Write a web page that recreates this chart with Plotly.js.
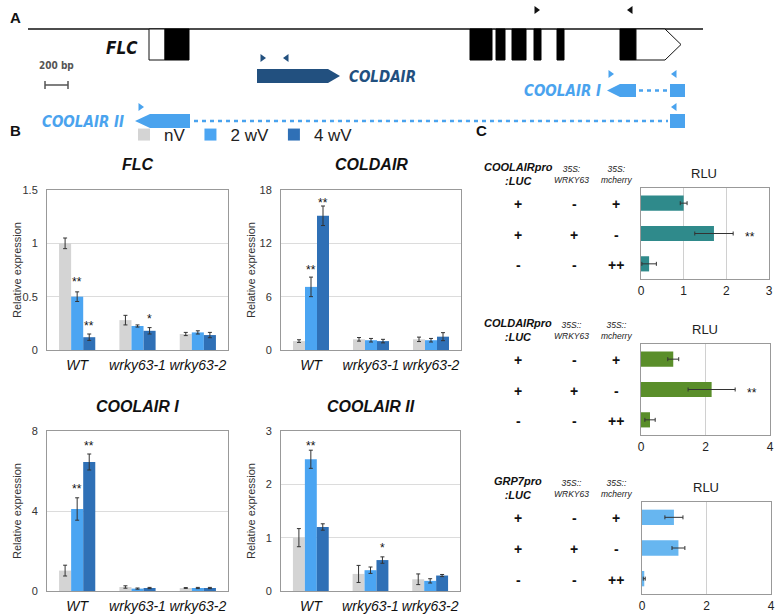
<!DOCTYPE html>
<html><head><meta charset="utf-8">
<script src="https://cdn.plot.ly/plotly-3.0.1.min.js"></script>
<style>html,body{margin:0;padding:0;background:#fff}#chart{width:775px;height:616px}</style>
</head><body><div id="chart"></div>
<script>
// ================= DATA =================
// Panel B: relative expression
const groups = ['WT', 'wrky63-1', 'wrky63-2'];
const seriesNames = ['nV', '2 wV', '4 wV'];
const geneTitles = ['FLC', 'COLDAIR', 'COOLAIR I', 'COOLAIR II'];

const flcNV = [1.0, 0.28, 0.15];
const flcNVErr = [0.05, 0.045, 0.015];
const flc2wV = [0.5, 0.225, 0.165];
const flc2wVErr = [0.045, 0.01, 0.015];
const flc4wV = [0.12, 0.18, 0.14];
const flc4wVErr = [0.03, 0.03, 0.025];

const coldairNV = [1.0, 1.2, 1.2];
const coldairNVErr = [0.15, 0.2, 0.25];
const coldair2wV = [7.1, 1.1, 1.1];
const coldair2wVErr = [1.1, 0.2, 0.2];
const coldair4wV = [15.1, 1.0, 1.5];
const coldair4wVErr = [1.1, 0.2, 0.45];

const coolair1NV = [1.02, 0.2, 0.15];
const coolair1NVErr = [0.27, 0.06, 0.02];
const coolair12wV = [4.1, 0.12, 0.15];
const coolair12wVErr = [0.56, 0.03, 0.03];
const coolair14wV = [6.45, 0.15, 0.15];
const coolair14wVErr = [0.4, 0.03, 0.03];

const coolair2NV = [1.0, 0.32, 0.22];
const coolair2NVErr = [0.17, 0.16, 0.1];
const coolair22wV = [2.47, 0.39, 0.19];
const coolair22wVErr = [0.17, 0.06, 0.04];
const coolair24wV = [1.2, 0.58, 0.29];
const coolair24wVErr = [0.06, 0.06, 0.02];

const yMax = [1.5, 18, 8, 3];
const yTick = [0.5, 6, 4, 1];

// significance marks (chart index, group index, series index, y, text)
const starChart = [0, 0, 0, 1, 1, 2, 2, 3, 3];
const starGroup = [0, 0, 1, 0, 0, 0, 0, 0, 1];
const starSeries = [1, 2, 2, 1, 2, 1, 2, 1, 2];
const starY = [0.67, 0.25, 0.32, 9.3, 16.9, 5.25, 7.4, 2.77, 0.86];
const starText = ['**', '**', '*', '**', '**', '**', '**', '**', '*'];

// Panel C: luciferase assays (RLU)
const lucRows = ['r1', 'r2', 'r3'];
const lucTitles = ['COOLAIRpro<br>:LUC', 'COLDAIRpro<br>:LUC', 'GRP7pro<br>:LUC'];
const lucCol2 = ['35S:<br>WRKY63', '35S::<br>WRKY63', '35S::<br>WRKY63'];
const lucCol3 = ['35S:<br>mcherry', '35S::<br>mcherry', '35S::<br>mcherry'];
const rowPro = ['+', '+', '-'];
const rowWrky = ['-', '+', '-'];
const rowMcherry = ['+', '-', '++'];
const luc1Vals = [1.0, 1.71, 0.19];
const luc1Err = [0.08, 0.45, 0.17];
const luc2Vals = [1.0, 2.19, 0.28];
const luc2Err = [0.17, 0.73, 0.16];
const luc3Vals = [0.99, 1.13, 0.07];
const luc3Err = [0.28, 0.2, 0.03];
const lucMax = [3, 4, 4];
const lucDtick = [1, 2, 2];
const lucStarRow = [1, 1];
const lucStarX = [2.56, 3.43];

// Panel A: FLC locus schematic (diagram units)
const genomeLine = [28, 703];
const exonStart = [165, 470, 496, 512, 534, 557, 620];
const exonEnd = [189, 492, 505, 526, 541, 564, 636];
const utr5 = [149, 165];
const utr3 = [636, 665, 681];
const coldairSpan = [257, 340];
const coolair1Span = [607, 636];
const coolair1Intron = [636, 670];
const coolair2Span = [135, 190];
const coolair2Intron = [190, 670];
const lastExon = [670, 685];
const primerX = [537, 630, 263, 286, 611, 674, 141, 674];
const primerY = [10, 10, 58, 58, 74, 74, 107, 107];
const primerDir = [1, -1, 1, -1, 1, -1, 1, -1];
const primerKind = [0, 0, 1, 1, 2, 2, 2, 2];

// ================= BUILD =================
(function () {
const W = 775, H = 616;
const fx = a => a / W;
const fy = b => 1 - b / H;
const FONT = 'Liberation Sans, Arial, Helvetica, sans-serif';
const NARROW = 'Liberation Sans Narrow, DejaVu Sans Condensed, Arial Narrow, sans-serif';
const serColors = ['#d4d4d4', '#4ba5f2', '#2f70b6'];
const lucColors = ['#2f8a8b', '#5a8e2a', '#67b6f0'];
const darkBlue = '#22507f', lightBlue = '#4aa3ee';

const chartVals = [
  [[flcNV, flcNVErr], [flc2wV, flc2wVErr], [flc4wV, flc4wVErr]],
  [[coldairNV, coldairNVErr], [coldair2wV, coldair2wVErr], [coldair4wV, coldair4wVErr]],
  [[coolair1NV, coolair1NVErr], [coolair12wV, coolair12wVErr], [coolair14wV, coolair14wVErr]],
  [[coolair2NV, coolair2NVErr], [coolair22wV, coolair22wVErr], [coolair24wV, coolair24wVErr]]
];
// layout boxes in px: [left, right, top, bottom]
const bBoxes = [[47, 228, 190, 350], [281, 461, 190, 350], [47, 228, 431, 591], [281, 460, 431, 591]];
const cBoxes = [[641, 769, 188, 279], [641, 770, 344, 435], [642, 771, 502, 594]];

const traces = [];
const layout = {
  width: W, height: H, autosize: false,
  margin: {l: 0, r: 0, t: 0, b: 0},
  paper_bgcolor: '#fff', plot_bgcolor: '#fff',
  font: {family: FONT, color: '#111'},
  barmode: 'group', bargap: 0.4, bargroupgap: 0,
  showlegend: true,
  legend: {orientation: 'h', x: fx(124), y: fy(135), xanchor: 'left', yanchor: 'middle',
           font: {family: FONT, size: 17, color: '#222'}, bgcolor: 'rgba(0,0,0,0)', traceorder: 'normal'},
  annotations: [], shapes: []
};
const ann = (o) => layout.annotations.push(Object.assign({showarrow: false, xanchor: 'center', yanchor: 'middle'}, o));

chartVals.forEach((chart, ci) => {
  const n = ci + 1;
  const xa = n === 1 ? 'x' : 'x' + n, ya = n === 1 ? 'y' : 'y' + n;
  chart.forEach((s, si) => {
    traces.push({
      type: 'bar', x: groups, y: s[0], name: seriesNames[si],
      xaxis: xa, yaxis: ya, marker: {color: serColors[si], line: {width: 0}},
      error_y: {type: 'data', array: s[1], visible: true, color: '#333', thickness: 1, width: 2},
      showlegend: ci === 0, legendgroup: seriesNames[si], hoverinfo: 'skip'
    });
  });
  const b = bBoxes[ci];
  layout['xaxis' + (n === 1 ? '' : n)] = {
    domain: [fx(b[0]), fx(b[1])], anchor: ya, type: 'category',
    showline: true, mirror: true, linecolor: '#999', linewidth: 1, ticks: '',
    tickfont: {family: FONT, size: 14, style: 'italic', color: '#111'}, ticklabelstandoff: 2,
    showgrid: false, zeroline: false, fixedrange: true
  };
  layout['yaxis' + (n === 1 ? '' : n)] = {
    domain: [fy(b[3]), fy(b[2])], anchor: xa, range: [0, yMax[ci]], dtick: yTick[ci],
    showline: true, mirror: true, linecolor: '#999', linewidth: 1, ticks: '',
    showgrid: true, gridcolor: '#dcdcdc', zeroline: false,
    tickfont: {family: FONT, size: 11, color: '#333'}, ticklabelstandoff: 6, fixedrange: true
  };
  ann({xref: 'paper', yref: 'paper', x: fx((b[0] + b[1]) / 2), y: fy(b[2] - 25),
    text: '<b><i>' + geneTitles[ci] + '</i></b>', font: {family: FONT, size: 16, color: '#111'}});
  ann({xref: 'paper', yref: 'paper', x: fx(ci % 2 === 0 ? 17 : 251), y: fy((b[2] + b[3]) / 2),
    text: 'Relative expression', textangle: -90, font: {family: FONT, size: 11, color: '#333'}});
});

starChart.forEach((c, i) => {
  const n = c + 1;
  ann({xref: n === 1 ? 'x' : 'x' + n, yref: n === 1 ? 'y' : 'y' + n,
    x: starGroup[i] + (starSeries[i] - 1) * 0.2, y: starY[i], text: starText[i],
    font: {family: FONT, size: 12, color: '#111'}, yshift: -3});
});

const lucData = [[luc1Vals, luc1Err], [luc2Vals, luc2Err], [luc3Vals, luc3Err]];
lucData.forEach((d, k) => {
  const n = k + 5;
  traces.push({
    type: 'bar', orientation: 'h', x: d[0], y: lucRows, width: 0.5,
    xaxis: 'x' + n, yaxis: 'y' + n, marker: {color: lucColors[k], line: {width: 0}},
    error_x: {type: 'data', array: d[1], visible: true, color: '#333', thickness: 1, width: 2},
    showlegend: false, hoverinfo: 'skip'
  });
  const b = cBoxes[k];
  layout['xaxis' + n] = {
    domain: [fx(b[0]), fx(b[1])], anchor: 'y' + n, range: [0, lucMax[k]], dtick: lucDtick[k],
    showline: true, mirror: true, linecolor: '#999', linewidth: 1, ticks: '',
    showgrid: true, gridcolor: '#d0d0d0', zeroline: false,
    tickfont: {family: FONT, size: 12, color: '#222'}, ticklabelstandoff: 1, fixedrange: true
  };
  layout['yaxis' + n] = {
    domain: [fy(b[3]), fy(b[2])], anchor: 'x' + n, type: 'category', autorange: 'reversed',
    showticklabels: false, ticks: '', showline: true, mirror: true, linecolor: '#999', linewidth: 1,
    showgrid: false, zeroline: false, fixedrange: true
  };
  ann({xref: 'paper', yref: 'paper', x: fx((b[0] + b[1]) / 2 - 1), y: fy(b[2] - 15),
    text: 'RLU', font: {family: FONT, size: 13, color: '#222'}});
  ann({xref: 'paper', yref: 'paper', x: fx(518), y: fy(b[2] - 14),
    text: '<b><i>' + lucTitles[k] + '</i></b>', align: 'center',
    font: {family: FONT, size: 11, color: '#111'}});
  ann({xref: 'paper', yref: 'paper', x: fx(571), y: fy(b[2] - 14),
    text: '<i>' + lucCol2[k] + '</i>', align: 'center',
    font: {family: FONT, size: 8.5, color: '#222'}});
  ann({xref: 'paper', yref: 'paper', x: fx(616), y: fy(b[2] - 14),
    text: '<i>' + lucCol3[k] + '</i>', align: 'center',
    font: {family: FONT, size: 8.5, color: '#222'}});
  [rowPro, rowWrky, rowMcherry].forEach((col, ci) => {
    const xp = [518, 574, 616][ci];
    col.forEach((t, r) => {
      ann({xref: 'paper', yref: 'y' + n, x: fx(xp), y: r, text: '<b>' + t + '</b>',
        font: {family: FONT, size: 14, color: '#111'}, yshift: -1});
    });
  });
});
lucStarRow.forEach((r, i) => {
  const n = i + 5;
  ann({xref: 'x' + n, yref: 'y' + n, x: lucStarX[i], y: r, text: '**',
    font: {family: FONT, size: 12, color: '#111'}, yshift: -3});
});

[['A', 8, 17], ['B', 8, 130], ['C', 474, 130]].forEach(p => {
  ann({xref: 'paper', yref: 'paper', x: fx(p[1]), y: fy(p[2]), text: '<b>' + p[0] + '</b>',
    xanchor: 'left', font: {family: FONT, size: 15, color: '#111'}});
});

// ---- Panel A schematic on a hidden axis ----
layout.xaxis8 = {domain: [0, 1], anchor: 'y8', range: [0, W], visible: false, fixedrange: true};
layout.yaxis8 = {domain: [fy(135), 1], anchor: 'x8', range: [135, 0], visible: false, fixedrange: true};
traces.push({type: 'scatter', x: [0], y: [0], xaxis: 'x8', yaxis: 'y8', mode: 'markers',
  marker: {opacity: 0}, showlegend: false, hoverinfo: 'skip'});
const S = (o) => Object.assign({xref: 'x8', yref: 'y8', layer: 'above'}, o);
const exTop = 29, exBot = 60;
layout.shapes.push(S({type: 'line', x0: genomeLine[0], x1: genomeLine[1], y0: exTop, y1: exTop, line: {color: '#111', width: 1.5}}));
layout.shapes.push(S({type: 'rect', x0: utr5[0], x1: utr5[1], y0: exTop, y1: exBot, fillcolor: '#fff', line: {color: '#111', width: 1}}));
exonStart.forEach((s, i) => layout.shapes.push(S({type: 'rect', x0: s, x1: exonEnd[i], y0: exTop, y1: exBot,
  fillcolor: '#000', line: {color: '#000', width: 1}})));
const exMid = (exTop + exBot) / 2;
layout.shapes.push(S({type: 'path', path: `M${utr3[0]},${exTop} L${utr3[1]},${exTop} L${utr3[2]},${exMid} L${utr3[1]},${exBot} L${utr3[0]},${exBot} Z`,
  fillcolor: '#fff', line: {color: '#111', width: 1}}));
layout.shapes.push(S({type: 'path', path: `M${coldairSpan[0]},69 L${coldairSpan[1] - 12},69 L${coldairSpan[1]},76 L${coldairSpan[1] - 12},83 L${coldairSpan[0]},83 Z`,
  fillcolor: darkBlue, line: {width: 0}}));
layout.shapes.push(S({type: 'path', path: `M${coolair1Span[1]},84 L${coolair1Span[0] + 13},84 L${coolair1Span[0]},90.5 L${coolair1Span[0] + 13},97 L${coolair1Span[1]},97 Z`,
  fillcolor: lightBlue, line: {width: 0}}));
layout.shapes.push(S({type: 'line', x0: coolair1Intron[0] + 3, x1: coolair1Intron[1] - 2, y0: 90.5, y1: 90.5, line: {color: lightBlue, width: 2.5, dash: '4px,4px'}}));
layout.shapes.push(S({type: 'rect', x0: lastExon[0], x1: lastExon[1], y0: 84, y1: 97, fillcolor: lightBlue, line: {width: 0}}));
layout.shapes.push(S({type: 'path', path: `M${coolair2Span[1]},114 L${coolair2Span[0] + 15},114 L${coolair2Span[0]},121 L${coolair2Span[0] + 15},128 L${coolair2Span[1]},128 Z`,
  fillcolor: lightBlue, line: {width: 0}}));
layout.shapes.push(S({type: 'line', x0: coolair2Intron[0] + 4, x1: coolair2Intron[1] - 2, y0: 121, y1: 121, line: {color: lightBlue, width: 2.5, dash: '4px,4px'}}));
layout.shapes.push(S({type: 'rect', x0: lastExon[0], x1: lastExon[1], y0: 114, y1: 128, fillcolor: lightBlue, line: {width: 0}}));
const primerColors = ['#111', darkBlue, lightBlue];
primerX.forEach((x, i) => {
  const y = primerY[i], d = primerDir[i];
  const p = d > 0 ? `M${x - 2.5},${y - 4} L${x + 3},${y} L${x - 2.5},${y + 4} Z` : `M${x + 2.5},${y - 4} L${x - 3},${y} L${x + 2.5},${y + 4} Z`;
  layout.shapes.push(S({type: 'path', path: p, fillcolor: primerColors[primerKind[i]], line: {width: 0}}));
});
layout.shapes.push(S({type: 'line', x0: 45, x1: 68, y0: 85, y1: 85, line: {color: '#555', width: 1.5}}));
layout.shapes.push(S({type: 'line', x0: 45, x1: 45, y0: 81, y1: 89, line: {color: '#555', width: 1.5}}));
layout.shapes.push(S({type: 'line', x0: 68, x1: 68, y0: 81, y1: 89, line: {color: '#555', width: 1.5}}));
const A = (x, y, t, size, color, anchor) => ann({xref: 'x8', yref: 'y8', x: x, y: y, text: t,
  xanchor: anchor, font: {family: NARROW, size: size, color: color}});
A(140, 48, '<b><i>FLC</i></b>', 17, '#111', 'right');
A(56, 65, '<b>200 bp</b>', 10, '#555', 'center');
A(347, 77, '<b><i>COLDAIR</i></b>', 15, darkBlue, 'left');
A(603, 91, '<b><i>COOLAIR I</i></b>', 15, lightBlue, 'right');
A(126, 122, '<b><i>COOLAIR II</i></b>', 15, lightBlue, 'right');

Plotly.newPlot('chart', traces, layout, {staticPlot: true, displayModeBar: false});
})();
</script>
</body></html>
